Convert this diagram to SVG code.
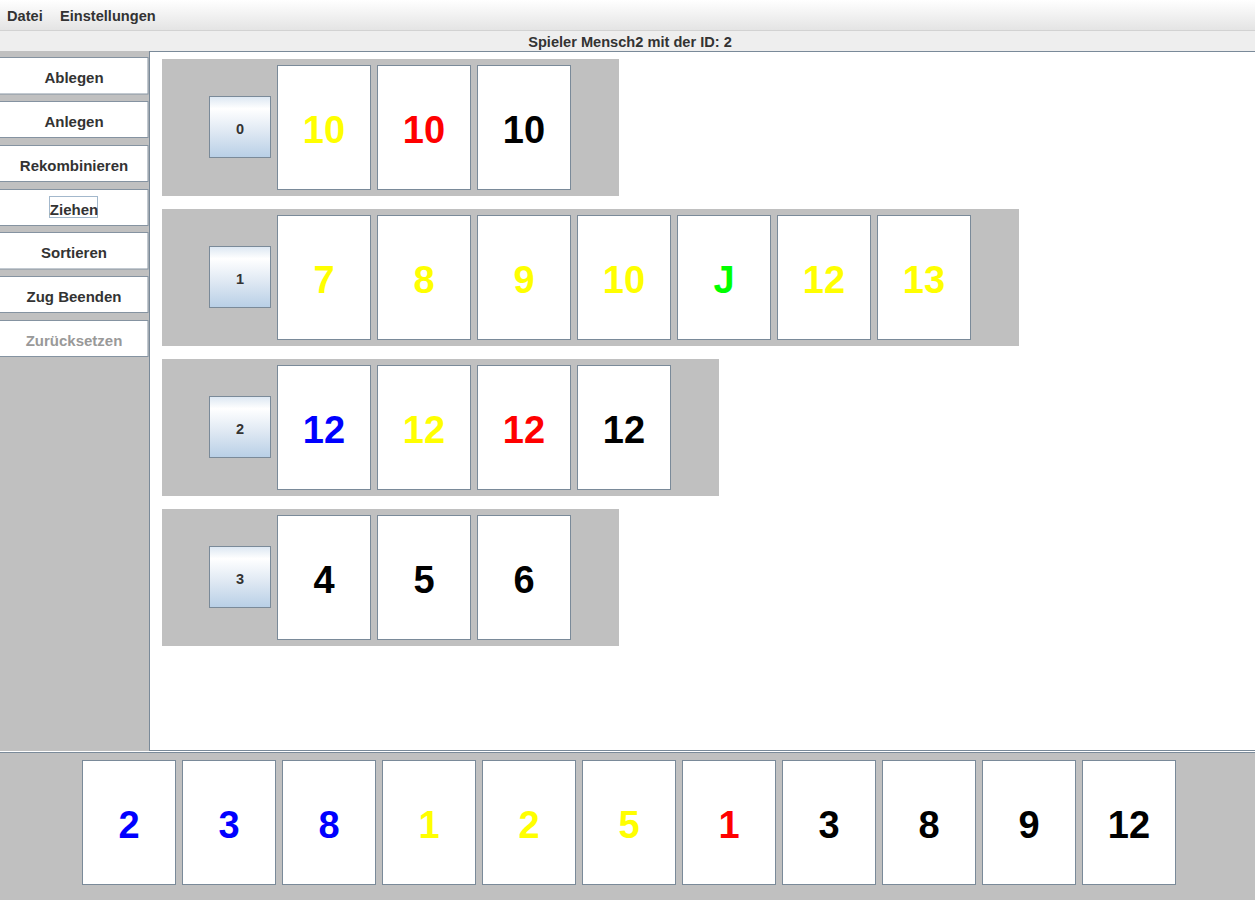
<svg xmlns="http://www.w3.org/2000/svg" width="1255" height="900" viewBox="0 0 1255 900">
<defs>
<linearGradient id="menuGrad" x1="0" y1="0" x2="0" y2="1">
<stop offset="0" stop-color="#ffffff"/>
<stop offset="1" stop-color="#e4e4e4"/>
</linearGradient>
<linearGradient id="lblGrad" x1="0" y1="0" x2="0" y2="1">
<stop offset="0" stop-color="#dce7f2"/>
<stop offset="0.2" stop-color="#ffffff"/>
<stop offset="0.55" stop-color="#e1eaf4"/>
<stop offset="1" stop-color="#b8cfe6"/>
</linearGradient>
<style>
.ui{font-family:"Liberation Sans",Arial,sans-serif;fill:#333333}
.menu{font-size:14.6px;font-weight:bold;fill:#333333}
.btn{fill:#ffffff;stroke:#8593a1;stroke-width:1}
.btntxt{font-size:15px;font-weight:bold;text-anchor:middle}
.row{fill:#c0c0c0}
.lbl{fill:url(#lblGrad);stroke:#7a8a99;stroke-width:1}
.lbltxt{font-size:14.5px;font-weight:bold;text-anchor:middle}
.card{fill:#ffffff;stroke:#7a8a99;stroke-width:1}
.num{font-family:"Liberation Sans",Arial,sans-serif;font-size:38px;font-weight:bold;text-anchor:middle}
.y{fill:#ffff00}.r{fill:#ff0000}.b{fill:#0000ff}.k{fill:#000000}.g{fill:#00ff00}
</style>
</defs>

<g id="menubar">
<rect x="0" y="0" width="1255" height="30" fill="url(#menuGrad)"/>
<line x1="0" y1="30.5" x2="1255" y2="30.5" stroke="#d2d2d2"/>
<text class="ui menu" x="7" y="21">Datei</text>
<text class="ui menu" x="60" y="21">Einstellungen</text>
</g>

<g id="titlebar">
<rect x="0" y="31" width="1255" height="20" fill="#eeeeee"/>
<text class="ui" x="630" y="47" font-size="14.6" font-weight="bold" text-anchor="middle">Spieler Mensch2 mit der ID: 2</text>
</g>

<g id="sidepanel">
<rect x="0" y="51" width="149" height="700" fill="#c0c0c0"/>
<g id="btn-ablegen"><rect class="btn" x="-1" y="57.5" width="149" height="36.5"/><text class="ui btntxt" x="74" y="83">Ablegen</text></g>
<g id="btn-anlegen"><rect class="btn" x="-1" y="101.5" width="149" height="36"/><text class="ui btntxt" x="74" y="126.5">Anlegen</text></g>
<g id="btn-rekombinieren"><rect class="btn" x="-1" y="145.5" width="149" height="36"/><text class="ui btntxt" x="74" y="170.5">Rekombinieren</text></g>
<g id="btn-ziehen"><rect class="btn" x="-1" y="189.5" width="149" height="36"/><rect x="49.5" y="196.5" width="48" height="21" fill="none" stroke="#a3b8cc"/><text class="ui btntxt" x="74" y="214.5">Ziehen</text></g>
<g id="btn-sortieren"><rect class="btn" x="-1" y="232.5" width="149" height="36.5"/><text class="ui btntxt" x="74" y="258">Sortieren</text></g>
<g id="btn-zug"><rect class="btn" x="-1" y="276.5" width="149" height="36"/><text class="ui btntxt" x="74" y="301.5">Zug Beenden</text></g>
<g id="btn-zuruecksetzen"><rect class="btn" x="-1" y="320.5" width="149" height="36"/><text class="ui btntxt" x="74" y="345.5" style="fill:#999999">Zurücksetzen</text></g>
</g>

<g id="mainpanel">
<rect x="150" y="52" width="1105" height="698" fill="#ffffff"/>
<line x1="149.5" y1="51" x2="149.5" y2="751" stroke="#7a8a99"/>
<line x1="149" y1="51.5" x2="1255" y2="51.5" stroke="#7a8a99"/>
</g>

<g id="row0">
<rect class="row" x="162" y="59" width="457" height="137"/>
<rect class="lbl" x="209.5" y="96.5" width="61" height="61"/><text class="ui lbltxt" x="240" y="134">0</text>
<rect class="card" x="277.5" y="65.5" width="93" height="124"/><text class="num y" x="324" y="143">10</text>
<rect class="card" x="377.5" y="65.5" width="93" height="124"/><text class="num r" x="424" y="143">10</text>
<rect class="card" x="477.5" y="65.5" width="93" height="124"/><text class="num k" x="524" y="143">10</text>
</g>

<g id="row1">
<rect class="row" x="162" y="209" width="857" height="137"/>
<rect class="lbl" x="209.5" y="246.5" width="61" height="61"/><text class="ui lbltxt" x="240" y="284">1</text>
<rect class="card" x="277.5" y="215.5" width="93" height="124"/><text class="num y" x="324" y="293">7</text>
<rect class="card" x="377.5" y="215.5" width="93" height="124"/><text class="num y" x="424" y="293">8</text>
<rect class="card" x="477.5" y="215.5" width="93" height="124"/><text class="num y" x="524" y="293">9</text>
<rect class="card" x="577.5" y="215.5" width="93" height="124"/><text class="num y" x="624" y="293">10</text>
<rect class="card" x="677.5" y="215.5" width="93" height="124"/><text class="num g" x="724" y="293">J</text>
<rect class="card" x="777.5" y="215.5" width="93" height="124"/><text class="num y" x="824" y="293">12</text>
<rect class="card" x="877.5" y="215.5" width="93" height="124"/><text class="num y" x="924" y="293">13</text>
</g>

<g id="row2">
<rect class="row" x="162" y="359" width="557" height="137"/>
<rect class="lbl" x="209.5" y="396.5" width="61" height="61"/><text class="ui lbltxt" x="240" y="434">2</text>
<rect class="card" x="277.5" y="365.5" width="93" height="124"/><text class="num b" x="324" y="443">12</text>
<rect class="card" x="377.5" y="365.5" width="93" height="124"/><text class="num y" x="424" y="443">12</text>
<rect class="card" x="477.5" y="365.5" width="93" height="124"/><text class="num r" x="524" y="443">12</text>
<rect class="card" x="577.5" y="365.5" width="93" height="124"/><text class="num k" x="624" y="443">12</text>
</g>

<g id="row3">
<rect class="row" x="162" y="509" width="457" height="137"/>
<rect class="lbl" x="209.5" y="546.5" width="61" height="61"/><text class="ui lbltxt" x="240" y="584">3</text>
<rect class="card" x="277.5" y="515.5" width="93" height="124"/><text class="num k" x="324" y="593">4</text>
<rect class="card" x="377.5" y="515.5" width="93" height="124"/><text class="num k" x="424" y="593">5</text>
<rect class="card" x="477.5" y="515.5" width="93" height="124"/><text class="num k" x="524" y="593">6</text>
</g>

<g id="hand">
<rect x="0" y="753" width="1255" height="147" fill="#c0c0c0"/>
<line x1="150" y1="750.5" x2="1255" y2="750.5" stroke="#7a8a99"/>
<line x1="0" y1="752.5" x2="1255" y2="752.5" stroke="#7a8a99"/>
<rect class="card" x="82.5" y="760.5" width="93" height="124"/><text class="num b" x="129" y="838">2</text>
<rect class="card" x="182.5" y="760.5" width="93" height="124"/><text class="num b" x="229" y="838">3</text>
<rect class="card" x="282.5" y="760.5" width="93" height="124"/><text class="num b" x="329" y="838">8</text>
<rect class="card" x="382.5" y="760.5" width="93" height="124"/><text class="num y" x="429" y="838">1</text>
<rect class="card" x="482.5" y="760.5" width="93" height="124"/><text class="num y" x="529" y="838">2</text>
<rect class="card" x="582.5" y="760.5" width="93" height="124"/><text class="num y" x="629" y="838">5</text>
<rect class="card" x="682.5" y="760.5" width="93" height="124"/><text class="num r" x="729" y="838">1</text>
<rect class="card" x="782.5" y="760.5" width="93" height="124"/><text class="num k" x="829" y="838">3</text>
<rect class="card" x="882.5" y="760.5" width="93" height="124"/><text class="num k" x="929" y="838">8</text>
<rect class="card" x="982.5" y="760.5" width="93" height="124"/><text class="num k" x="1029" y="838">9</text>
<rect class="card" x="1082.5" y="760.5" width="93" height="124"/><text class="num k" x="1129" y="838">12</text>
</g>
</svg>
